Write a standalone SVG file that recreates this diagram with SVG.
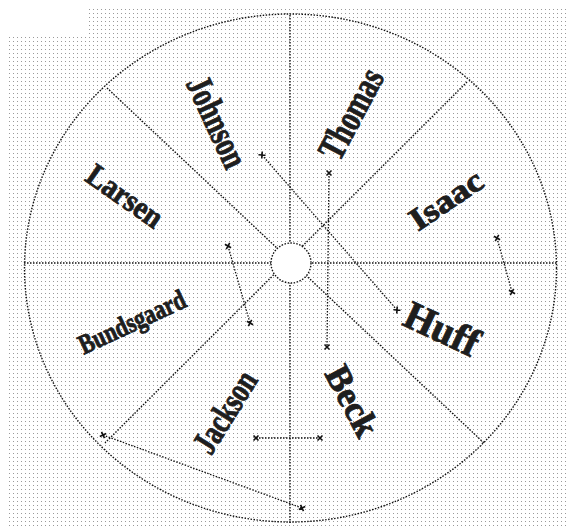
<svg xmlns="http://www.w3.org/2000/svg" width="568" height="527" viewBox="0 0 568 527">
  <defs>
    <pattern id="dots" width="4" height="4" patternUnits="userSpaceOnUse">
      <rect x="1" y="1" width="1" height="1" fill="#9a9a9a"/>
    </pattern>
    <marker id="x" viewBox="-4 -4 8 8" markerWidth="8" markerHeight="8" markerUnits="userSpaceOnUse" refX="0" refY="0" orient="auto">
      <path d="M-2.5,-2.5 L2.5,2.5 M-2.5,2.5 L2.5,-2.5" stroke="#111" stroke-width="1.6"/>
    </marker>
  </defs>
  <style>
    .dl { fill: none; stroke: #111; stroke-width: 1.4; stroke-dasharray: 1.5 1.5; }
    .hub { fill: #fff; stroke: #111; stroke-width: 1.4; stroke-dasharray: 1.5 1.5; }
    .cn { fill: none; stroke: #111; stroke-width: 1.3; stroke-dasharray: 1.5 1.5; marker-start: url(#x); marker-end: url(#x); }
    .nm { font-family: "Liberation Serif", "Times New Roman", serif; font-weight: bold; fill: #1e1e1e; stroke: #1e1e1e; stroke-width: 0.9; text-anchor: middle; }
  </style>
  <rect width="568" height="527" fill="#fff"/>
  <polygon points="87,9 568,9 568,527 7,527 7,37 87,37" fill="url(#dots)"/>

  <g id="wheel">
    <ellipse cx="290.5" cy="268" rx="266" ry="254" class="dl"/>
    <line x1="290" y1="15" x2="290" y2="523" class="dl"/>
    <line x1="24" y1="263" x2="557" y2="263" class="dl"/>
    <line x1="107" y1="88" x2="484" y2="443" class="dl"/>
    <line x1="467" y1="82" x2="105" y2="443" class="dl"/>
    <circle cx="291" cy="263" r="20" class="hub"/>
  </g>

  <g id="connectors">
    <line x1="262" y1="155" x2="397" y2="310" class="cn"/>
    <line x1="329" y1="173" x2="327" y2="347" class="cn"/>
    <line x1="497" y1="238" x2="512" y2="292" class="cn"/>
    <line x1="228" y1="246" x2="250" y2="323" class="cn"/>
    <line x1="256" y1="438" x2="320" y2="438" class="cn"/>
    <line x1="103" y1="435" x2="302" y2="508" class="cn"/>
  </g>

  <g id="johnson"><text class="nm" font-size="37" textLength="97" lengthAdjust="spacingAndGlyphs" dy="0.33em" transform="translate(217,122) rotate(65)">Johnson</text></g>
  <g id="thomas"><text class="nm" font-size="38" textLength="97" lengthAdjust="spacingAndGlyphs" dy="0.33em" transform="translate(351,114) rotate(-62)">Thomas</text></g>
  <g id="isaac"><text class="nm" font-size="32" textLength="82" lengthAdjust="spacingAndGlyphs" dy="0.33em" transform="translate(446,200) rotate(-34)">Isaac</text></g>
  <g id="larsen"><text class="nm" font-size="32" textLength="86" lengthAdjust="spacingAndGlyphs" dy="0.33em" transform="translate(125,196) rotate(35)">Larsen</text></g>
  <g id="huff"><text class="nm" font-size="40" textLength="78" lengthAdjust="spacingAndGlyphs" dy="0.33em" transform="translate(442,329) rotate(25)">Huff</text></g>
  <g id="bundsgaard"><text class="nm" font-size="28" textLength="115" lengthAdjust="spacingAndGlyphs" dy="0.33em" transform="translate(132,322) rotate(-25)">Bundsgaard</text></g>
  <g id="jackson"><text class="nm" font-size="35" textLength="90" lengthAdjust="spacingAndGlyphs" dy="0.33em" transform="translate(225,412) rotate(-58)">Jackson</text></g>
  <g id="beck"><text class="nm" font-size="36" textLength="75" lengthAdjust="spacingAndGlyphs" dy="0.33em" transform="translate(352,401) rotate(62)">Beck</text></g>
</svg>
